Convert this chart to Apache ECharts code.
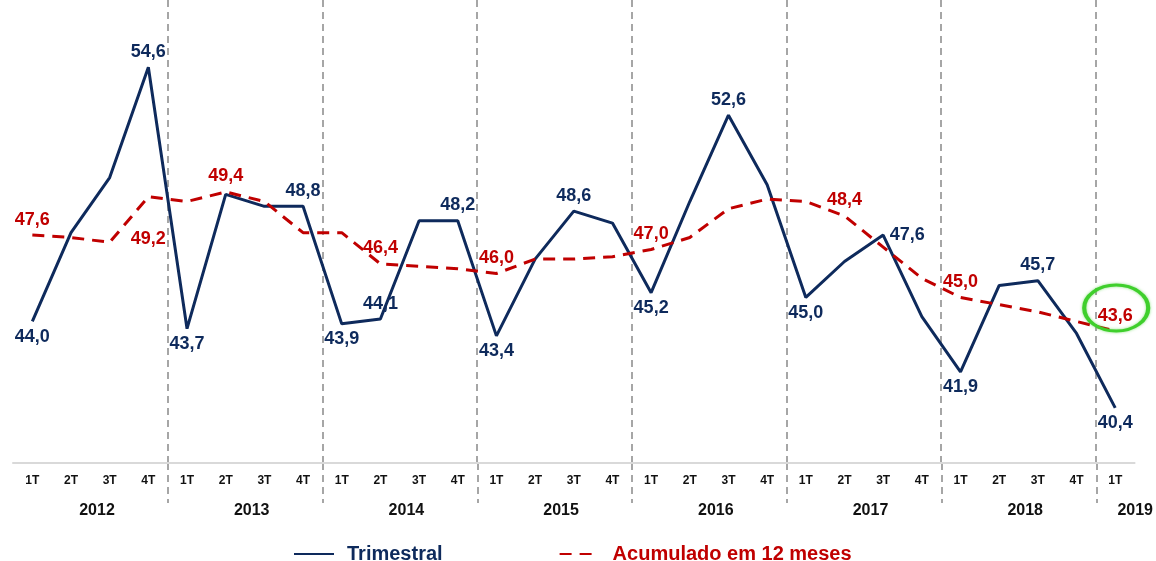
<!DOCTYPE html>
<meta charset="utf-8">
<title>Trimestral x Acumulado</title>
<style>
body { margin: 0; background: #fff; }
</style>
<body>
<div id="main" style="width: 1156px;height:561px;"></div>
<script src="https://cdn.jsdelivr.net/npm/echarts@6/dist/echarts.min.js"></script>
<script type="text/javascript">

var years = ['2012', '2013', '2014', '2015', '2016', '2017', '2018', '2019'];
var quarters = ['1T', '2T', '3T', '4T'];

var trimestral = [44.0, 47.7, 50.0, 54.6, 43.7, 49.3, 48.8, 48.8,
                  43.9, 44.1, 48.2, 48.2, 43.4, 46.6, 48.6, 48.1,
                  45.2, 49.0, 52.6, 49.7, 45.0, 46.5, 47.6, 44.2,
                  41.9, 45.5, 45.7, 43.5, 40.4];

var acumulado = [47.6, 47.5, 47.3, 49.2, 49.0, 49.4, 49.0, 47.7,
                 47.7, 46.4, 46.3, 46.2, 46.0, 46.6, 46.6, 46.7,
                 47.0, 47.5, 48.7, 49.1, 49.0, 48.4, 47.1, 45.8,
                 45.0, 44.7, 44.4, 44.0, 43.6];

// which points get a value label, and where
var triLabels = {0: 'bottom', 3: 'top', 4: 'bottom', 7: 'top', 8: 'bottom', 9: 'top',
                 11: 'top', 12: 'bottom', 14: 'top', 16: 'bottom', 18: 'top', 20: 'bottom',
                 22: 'right', 24: 'bottom', 26: 'top', 28: 'bottom'};
var acuLabels = {0: 'top', 3: 'bottom', 5: 'top', 9: 'top', 12: 'top', 16: 'top',
                 21: 'top', 24: 'top', 28: 'top'};

var navy = '#0e2a5c';
var red = '#c00000';
var font = '"Liberation Sans", Arial, sans-serif';

var cats = [];
years.forEach(function (y) {
  quarters.forEach(function (q) { cats.push(y + '-' + q); });
});
cats = cats.slice(0, trimestral.length);

function fmt(v) { return v.toFixed(1).replace('.', ','); }

function withLabels(values, map, color) {
  return values.map(function (v, i) {
    var pos = map[i];
    if (!pos) return { value: v, label: { show: false } };
    return {
      value: v,
      label: {
        show: true,
        position: pos,
        distance: pos === 'bottom' && color === red ? 33 : 6,
        color: color,
        fontFamily: font,
        fontWeight: 'bold',
        fontSize: 18,
        formatter: function (p) { return fmt(p.value); }
      }
    };
  });
}

var yearSep = function (index) { return index > 0 && index % 4 === 0; };
var sepStyle = { color: '#a6a6a6', width: 2, type: [7, 5] };

var myChart = echarts.init(document.getElementById('main'));
var option = {
  animation: false,
  backgroundColor: '#fff',
  grid: [
    { left: 13, right: 21, top: 0, bottom: 98 },
    { left: 13, right: 21, top: 463, height: 40 }
  ],
  legend: {
    left: 288,
    top: 539,
    itemWidth: 40,
    itemHeight: 14,
    itemGap: 116,
    textStyle: { fontFamily: font, fontWeight: 'bold', fontSize: 20, padding: [0, 0, 0, 8] },
    data: [
      { name: 'Trimestral', textStyle: { color: navy } },
      { name: 'Acumulado em 12 meses', textStyle: { color: red } }
    ]
  },
  xAxis: [{
    type: 'category',
    gridIndex: 0,
    data: cats,
    boundaryGap: true,
    axisLine: { lineStyle: { color: '#d9d9d9', width: 2 } },
    axisTick: { show: false },
    splitLine: { show: true, interval: yearSep, showMaxLine: false, lineStyle: sepStyle },
    axisLabel: {
      interval: 0,
      margin: 12,
      color: '#111',
      fontFamily: font,
      fontWeight: 'bold',
      fontSize: 12,
      formatter: function (v) { return v.split('-')[1]; }
    }
  }, {
    type: 'category',
    gridIndex: 0,
    data: cats,
    position: 'bottom',
    boundaryGap: true,
    axisLine: { show: false },
    axisTick: { show: false },
    splitLine: { show: false },
    axisLabel: {
      interval: 0,
      margin: 40,
      color: '#111',
      fontFamily: font,
      fontWeight: 'bold',
      fontSize: 16,
      formatter: function (v, i) {
        var y = v.split('-')[0];
        if (i === cats.length - 1 && i % 4 === 0) return '{z|' + y + '}';
        return i % 4 === 1 ? '{y|' + y + '}' : '';
      },
      rich: {
        y: { fontFamily: font, fontWeight: 'bold', fontSize: 16, color: '#111', padding: [0, 0, 0, 52] },
        z: { fontFamily: font, fontWeight: 'bold', fontSize: 16, color: '#111', padding: [0, 0, 0, 40] }
      }
    }
  }, {
    // lower part of the year separators, below the axis line
    type: 'category',
    gridIndex: 1,
    data: cats,
    boundaryGap: true,
    axisLine: { show: false },
    axisTick: { show: false },
    axisLabel: { show: false },
    splitLine: { show: true, interval: yearSep, showMaxLine: false, lineStyle: sepStyle }
  }],
  yAxis: [
    { type: 'value', gridIndex: 0, min: 38.1, max: 57.4, show: false, splitLine: { show: false } },
    { type: 'value', gridIndex: 1, show: false, splitLine: { show: false } }
  ],
  series: [{
    name: 'Trimestral',
    type: 'line',
    data: withLabels(trimestral, triLabels, navy),
    symbol: 'circle',
    symbolSize: 1,
    itemStyle: { color: 'rgba(0,0,0,0)' },
    lineStyle: { color: navy, width: 3 },
    z: 2
  }, {
    name: 'Acumulado em 12 meses',
    type: 'line',
    data: withLabels(acumulado, acuLabels, red),
    symbol: 'circle',
    symbolSize: 1,
    itemStyle: { color: 'rgba(0,0,0,0)' },
    lineStyle: { color: red, width: 3, type: [12, 8] },
    z: 3,
    markPoint: {
      silent: true,
      label: { show: false },
      data: [{
        coord: [cats[cats.length - 1], acumulado[acumulado.length - 1]],
        symbol: 'circle',
        symbolSize: [64, 46],
        symbolOffset: [1, -23],
        itemStyle: {
          color: 'rgba(0,0,0,0)',
          borderColor: '#3fcf2c',
          borderWidth: 3.5,
          shadowBlur: 3,
          shadowColor: 'rgba(63,207,44,0.6)'
        }
      }]
    }
  }]
};

myChart.setOption(option);
</script>
</body>
